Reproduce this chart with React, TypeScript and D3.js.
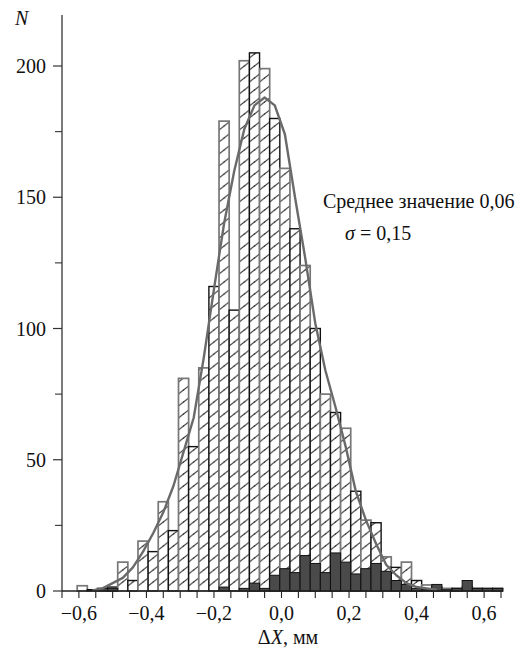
import React from 'react'
import * as d3 from 'd3'

// bin centres, ΔX in mm (bin width 0.03)
const binCenters = [
  -0.59, -0.56, -0.53, -0.5, -0.47, -0.44, -0.41, -0.38, -0.35, -0.32, -0.29, -0.26, -0.23, -0.2,
  -0.17, -0.14, -0.11, -0.08, -0.05, -0.02, 0.01, 0.04, 0.07, 0.1, 0.13, 0.16, 0.19, 0.22,
  0.25, 0.28, 0.31, 0.34, 0.37, 0.4, 0.43, 0.46, 0.49, 0.52, 0.55, 0.58, 0.61, 0.64,
]
// all measurements (hatched bars)
const countsAll = [
  2, 0.5, 1, 1.5, 11, 4, 19, 15, 34, 23, 81, 55, 85, 116,
  179, 107, 202, 205, 199, 180, 161, 138, 124, 100, 75, 68, 62, 38,
  27, 26, 13, 9, 11, 4, 2.3, 1.5, 1, 1, 1.5, 1, 1, 1,
]
// subset (dark bars)
const countsDark = [
  0, 0, 1, 1, 0, 0, 0, 0, 0, 0, 0, 0, 0, 0,
  1.5, 0, 1, 3, 1, 6, 8.5, 7, 13.5, 10.5, 7, 14.5, 11, 6.5,
  8.5, 10.5, 7.5, 4, 2.5, 1, 0.5, 2.5, 0.5, 1, 4, 1, 1, 1,
]
// fitted normal curve
const fitX = [
  -0.56, -0.53, -0.5, -0.47, -0.44, -0.41, -0.38, -0.35, -0.32, -0.29, -0.26, -0.23, -0.2,
  -0.17, -0.14, -0.11, -0.08, -0.05, -0.02, 0.01, 0.04, 0.07, 0.1, 0.13, 0.16, 0.19, 0.22,
  0.25, 0.28, 0.31, 0.34, 0.37, 0.4, 0.43, 0.46,
]
const fitN = [
  0.2, 1, 3, 5, 9, 15, 22, 30, 40, 53, 66, 89, 115,
  140, 160, 176, 185, 188, 185, 174, 150, 127, 102, 84, 70, 55, 38,
  27, 18, 10, 6, 3, 1.5, 1, 0.5,
]
const yTicks = [0, 50, 100, 150, 200]
const yMinorTicks = [25, 75, 125, 175]
const xTickLabels = [-0.6, -0.4, -0.2, 0, 0.2, 0.4, 0.6]

const W = 523
const H = 650
const BIN = 0.03
const FONT = '"Liberation Serif", "DejaVu Serif", serif'
const FS = 20

export default function App() {
  const x = d3.scaleLinear().domain([-0.65, 0.65]).range([62, 501])
  const y = d3.scaleLinear().domain([0, 200]).range([591, 66])
  const bw = x(BIN) - x(0)
  const xMinor = x.ticks(26)

  const line = d3.line<number>()
    .x((d, i) => x(fitX[i]))
    .y(d => y(d))
    .curve(d3.curveLinear)

  const fmt = (v: number) => {
    const s = Math.abs(v).toFixed(1).replace('.', ',')
    return v < -1e-9 ? '\u2212' + s : s
  }

  return (
    <svg width={W} height={H} style={{ position: 'absolute', left: 0, top: 0, background: '#fff' }}
      fontFamily={FONT}>
      <defs>
        <pattern id="hatch" patternUnits="userSpaceOnUse" x={x(binCenters[0] - BIN / 2)} y={0}
          width={bw} height={12}>
          <rect width={bw} height={12} fill="#fff" />
          <line x1={0} y1={10} x2={bw} y2={2} stroke="#444" strokeWidth={1} />
          <circle cx={bw * 0.5} cy={6} r={0.7} fill="#333" />
        </pattern>
      </defs>

      {/* hatched bars */}
      {binCenters.map((c, i) => {
        const v = countsAll[i]
        return (
          <rect key={'a' + i} x={x(c - BIN / 2)} y={y(v)} width={bw} height={y(0) - y(v)}
            fill="url(#hatch)" stroke={i % 2 === 0 ? '#777' : '#111'}
            strokeWidth={i % 2 === 0 ? 1.7 : 1.4} />
        )
      })}

      {/* dark bars */}
      {binCenters.map((c, i) => {
        const v = countsDark[i]
        if (!v) return null
        return (
          <rect key={'d' + i} x={x(c - BIN / 2)} y={y(v)} width={bw} height={y(0) - y(v)}
            fill="#4a4a4a" stroke="#111" strokeWidth={1} />
        )
      })}

      {/* fitted curve */}
      <path d={line(fitN) || ''} fill="none" stroke="#6a6a6a" strokeWidth={2.4} strokeLinejoin="round" />

      {/* y axis */}
      <line x1={x(-0.65)} x2={x(-0.65)} y1={15} y2={y(0)} stroke="#333" strokeWidth={1.3} />
      {yTicks.map(t => (
        <g key={'yt' + t}>
          <line x1={53} x2={62} y1={y(t)} y2={y(t)} stroke="#333" strokeWidth={1.2} />
          <text x={46} y={y(t)} dy="0.35em" textAnchor="end" fontSize={FS} fill="#111">{t}</text>
        </g>
      ))}
      {yMinorTicks.map(t => (
        <line key={'ym' + t} x1={55} x2={62} y1={y(t)} y2={y(t)} stroke="#333" strokeWidth={1.1} />
      ))}
      <text x={15} y={25} fontSize={FS} fontStyle="italic" fill="#111">N</text>

      {/* x axis */}
      <line x1={x(-0.65)} x2={x(0.65) + 2} y1={y(0)} y2={y(0)} stroke="#222" strokeWidth={1.5} />
      {xMinor.map(t => (
        <line key={'xt' + t} x1={x(t)} x2={x(t)} y1={y(0)} y2={y(0) + 7} stroke="#222" strokeWidth={1.1} />
      ))}
      {xTickLabels.map(t => (
        <text key={'xl' + t} x={x(t)} y={620} textAnchor="middle" fontSize={FS} fill="#111">{fmt(t)}</text>
      ))}
      <text x={288} y={644} textAnchor="middle" fontSize={FS} fill="#111">
        <tspan>Δ</tspan><tspan fontStyle="italic">X</tspan><tspan>, мм</tspan>
      </text>

      {/* annotation */}
      <text x={323} y={208} fontSize={FS} fill="#111">Среднее значение 0,06</text>
      <text x={345} y={240} fontSize={FS} fill="#111">
        <tspan fontStyle="italic">σ</tspan><tspan> = 0,15</tspan>
      </text>
    </svg>
  )
}
